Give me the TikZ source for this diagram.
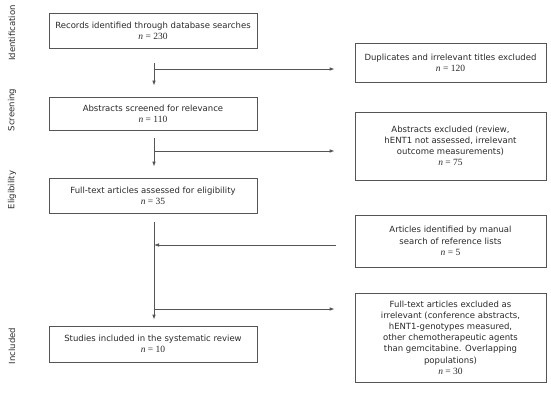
\documentclass[tikz,border=0pt]{standalone}
\usepackage{fontspec}
\setmainfont{DejaVu Sans}
\newfontfamily\serifn{Liberation Serif}
\usetikzlibrary{arrows.meta,calc}
\definecolor{ln}{HTML}{555555}
\definecolor{tx}{HTML}{2a2a2a}
\tikzset{
  box/.style={draw=ln, line width=0.8pt, align=center, text=tx, font=\fontsize{8.5}{11.2}\selectfont, inner sep=0pt, anchor=center},
  conn/.style={draw=ln, line width=0.8pt},
  arr/.style={conn, -{Latex[length=5pt,width=3.6pt]}},
  phase/.style={rotate=90, text=tx, font=\fontsize{8.5}{9}\selectfont, anchor=center}
}
\newcommand{\nn}[1]{{\serifn\fontsize{9.5}{11.2}\selectfont\itshape n\upshape\ = #1}}
\begin{document}
\begin{tikzpicture}[x=1pt,y=-1pt]
\useasboundingbox (0,0) rectangle (551,406);
\fill[white] (0,0) rectangle (551,406);
\node[phase] (p1) at (12,33) {Identification};
\node[phase] (p2) at (12,110) {Screening};
\node[phase] (p3) at (12,190) {Eligibility};
\node[phase] (p4) at (12,346) {Included};

\node[box, minimum width=208pt, minimum height=35pt] (b1) at (153,30.5) {Records identified through database searches\\\nn{230}};
\node[box, minimum width=191pt, minimum height=39pt] (d1) at (450.5,62.5) {Duplicates and irrelevant titles excluded\\\nn{120}};
\node[box, minimum width=208pt, minimum height=33pt] (b2) at (153,113.5) {Abstracts screened for relevance\\\nn{110}};
\node[box, minimum width=191pt, minimum height=68pt] (d2) at (450.5,146) {Abstracts excluded (review,\\hENT1 not assessed, irrelevant\\outcome measurements)\\\nn{75}};
\node[box, minimum width=208pt, minimum height=35pt] (b3) at (153,195.5) {Full-text articles assessed for eligibility\\\nn{35}};
\node[box, minimum width=191pt, minimum height=52pt] (a3) at (450.5,241) {Articles identified by manual\\search of reference lists\\\nn{5}};
\node[box, minimum width=208pt, minimum height=36pt] (b4) at (153,344) {Studies included in the systematic review\\\nn{10}};
\node[box, minimum width=191pt, minimum height=89pt] (d4) at (450.5,337.5) {Full-text articles excluded as\\irrelevant (conference abstracts,\\hENT1-genotypes measured,\\other chemotherapeutic agents\\than gemcitabine. Overlapping\\populations)\\\nn{30}};

\coordinate (t1) at (154,63);
\coordinate (t2) at (154,138);
\coordinate (t3) at (154,222);
\coordinate (j1) at (154,69);
\coordinate (j2) at (154,151);
\coordinate (j3) at (154,245);
\coordinate (j4) at (154,309);

\draw[arr, shorten >=11pt] (t1) -- (t1 |- b2.north);
\draw[arr, shorten >=20pt] (j1) -- (j1 -| d1.west);
\draw[arr, shorten >=11pt] (t2) -- (t2 |- b3.north);
\draw[arr, shorten >=20pt] (j2) -- (j2 -| d2.west);
\draw[arr, shorten >=6pt] (t3) -- (t3 |- b4.north);
\draw[arr, shorten <=19pt] (j3 -| a3.west) -- (j3);
\draw[arr, shorten >=20pt] (j4) -- (j4 -| d4.west);
\end{tikzpicture}
\end{document}
